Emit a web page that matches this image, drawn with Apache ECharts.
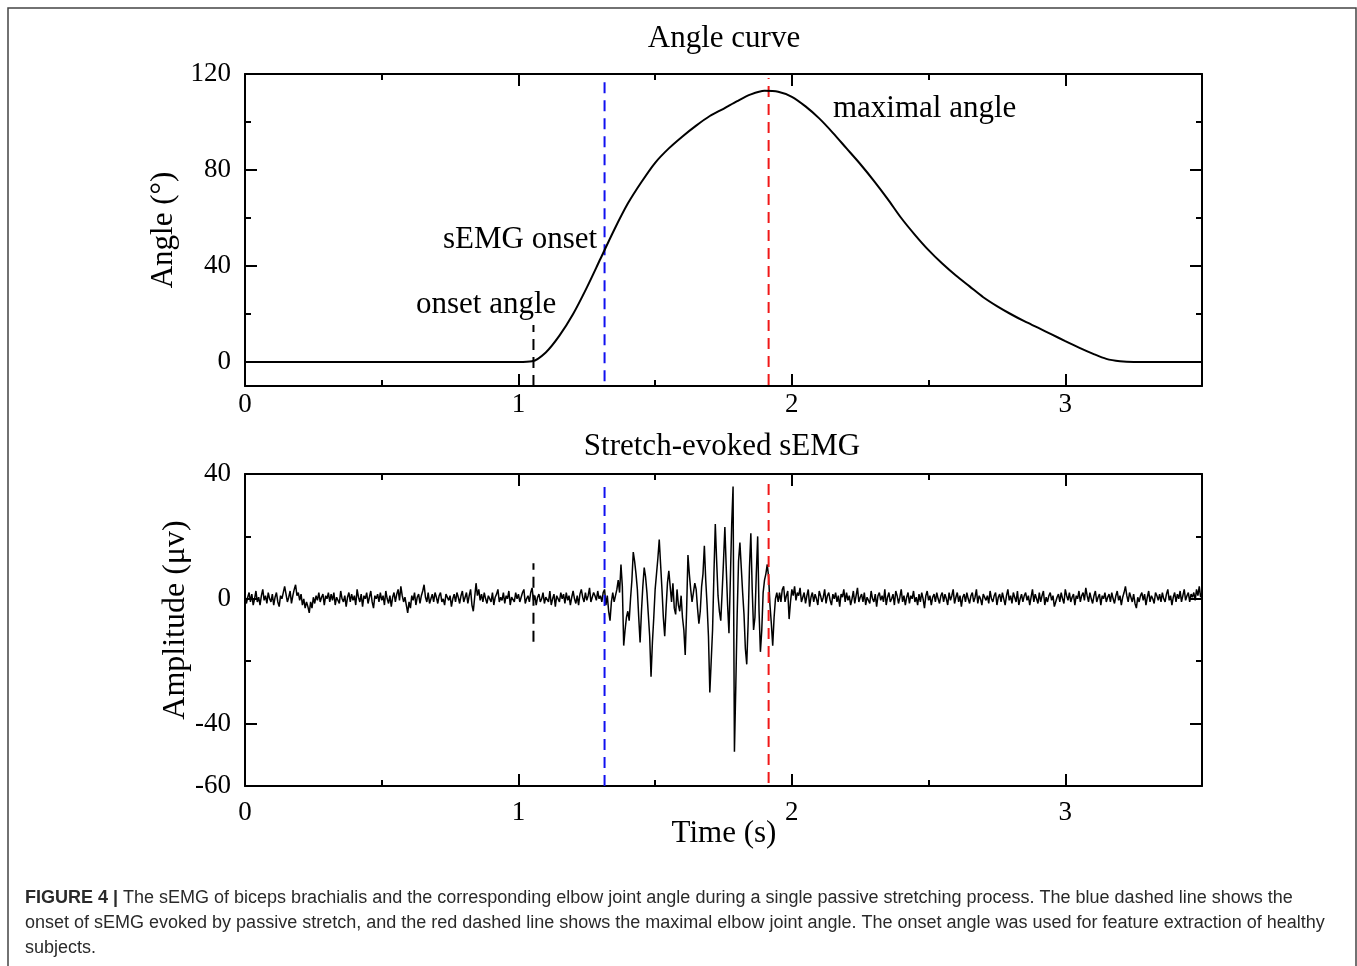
<!DOCTYPE html>
<html><head><meta charset="utf-8">
<script src="https://cdn.jsdelivr.net/npm/echarts@6/dist/echarts.min.js"></script>
<style>html,body{margin:0;padding:0;background:#fff}#c{width:1357px;height:966px}</style>
</head><body><div id="c"></div><script>
// ---------- data ----------
const angleTime = [0, 0.5, 1.0, 1.05, 1.1, 1.15, 1.2, 1.25, 1.3, 1.35, 1.4, 1.45, 1.5, 1.55, 1.6, 1.65, 1.7, 1.75, 1.8, 1.85, 1.9, 1.95, 2.0, 2.05, 2.1, 2.15, 2.2, 2.25, 2.3, 2.35, 2.4, 2.45, 2.5, 2.55, 2.6, 2.65, 2.7, 2.75, 2.8, 2.85, 2.9, 2.95, 3.0, 3.05, 3.1, 3.15, 3.2, 3.25, 3.5];
const angleValue = [0, 0, 0, 0.3, 4, 11, 20, 31, 43, 55, 66, 75, 83, 89, 94, 98.5, 102.5, 105.5, 108.7, 111.5, 113, 112.6, 110.5, 106.5, 101.5, 95.5, 89, 82.5, 75.5, 68, 60, 53, 46.6, 41, 36, 31.5, 27, 23.3, 20, 17, 14.3, 11.5, 8.7, 6, 3.5, 1.3, 0.3, 0, 0];

// sEMG samples (µV)
const emgPreStart = 0, emgPreStep = 0.005;
const emgPre = [
  1, -1.5, 0.5, 2, -1, 1.5, -2, 0, 2.5, -1, 0.5, -2, 1, 3, -0.5, 1, -1.5, 2, 0, -1,
  1.5, -2, 0.5, 2, -1, -2.5, 1, 0, 2, 4, 1.5, -1, 0.5, 2.5, -1.5, 1, 3, 4.5, 1, 2,
  -0.5, 1.5, -2, 0, -3, -1, -2.5, -4.5, -1, -3, 0.5, -1.5, 1, -0.5, 2, -1, 0.5, 1.5, -2, 1,
  0, 2, -1, 1.5, -0.5, 2, -2, 0.5, 1, -1.5, 2.5, 0, -1, 1, -2.5, 0.5, 2, -1, 1.5, -0.5,
  1, -2, 3, 0.5, -1, 1.5, -2.5, 1, 0, 2, -1.5, 0.5, 2.5, -1, -3, 1, 0, 1.5, -1, 2,
  -0.5, 1, -2, 2.5, 0, -1.5, 1, -2.5, 0.5, 2, -1, 1.5, 3, -0.5, 4, 1, -1, 0.5, -2, -4.5,
  -1, -3, 1, -0.5, 2, -2, 0.5, 1.5, -1.5, 1, 2.5, 4.5, 0.5, -1, 2, -1.5, 0, 1.5, -1, 2,
  0.5, -1.5, 1, 2, -1, 0, -2, 1.5, 2, -0.5, 1, -2.5, 0, 1.5, -1, 2, 0.5, -1.5, 1, 2.5,
  -1, 0.5, 2, -1.5, 1, 3, -2, -4, 0.5, 5, 1, 3, -0.5, 1.5, -1, 2, 0, -1.5, 1, 0.5,
  -1, 2, -2, 0.5, 1.5, 3, -1, 0.5, -0.5, 2, -1.5, 1, 0, 2.5, -2, 0.5, 1, -1, 2, 0,
  1.5, -1, 0.5, 2, 3, -1.5, 0, 1, -1, 2, 3.5, -0.5, 1, -2, 0.5, 1.5, -1, 0, 2, -1.5,
  0.5, 1, -1, 2.5, -2, 0, 1.5, -2.5, 1, 0.5, -1, 2, 0, 1.5, -1.5, 2, -0.5, 1, -2, 0.5,
  2.5, 0, -1.5, 1, -2, 1.5, 3, 0.5, -1, 2, -0.5, 1, 3.5, -1, 0.5, 2, 1, -0.5, 2.5, 0
];
const emgBurstStart = 1.30, emgBurstStep = 0.005;
const emgBurst = [
  1, -1, 2, 3, -2, 1, -4, -7, -1, 2,
  -1, 1, 3, 6, 2, 11, 4, -15, -10, -6,
  -4, -7, 0, 6, 15, 12, 8, 3, -6, -14,
  -4, 4, 10, 7, 2, -5, -12, -25, -14, -6,
  3, 8, 13, 19, 11, 3, -6, -12, -3, 5,
  9, 4, -1, 5, -3, -5, 3, -2, -4, 1,
  -6, -10, -18, -4, 14, 8, 3, -1, 2, 5,
  3, -3, -8, -4, 4, 8, 17, 6, -2, -12,
  -30, -20, -10, 8, 24, 12, 1, -4, -7, 2,
  12, 23, 10, -2, -11, 6, 24, 36, -49, -28,
  -5, 12, 18, 10, 2, -5, -16, -21, -8, 10,
  21, 3, -10, -6, 8, 20, -4, -17, -10, 2,
  6, 8, 11, 7, -2, -8, -15, -6, 0, 2, -1
];
const emgPostStart = 1.955, emgPostStep = 0.005;
const emgPost = [
  2, -1, 3, 4, -1, 1, 2.5, -6.5, -1, 3, 1, 4, -0.5, 2, 1, 3.5, -1, 0.5, 2, -1.5,
  1, 3, -2.5, 0.5, 2, -1, 1.5, 0, -2, 2.5, 1, -1, 0.5, 3, -1.5, 1, 2, -0.5, -2, 1.5,
  0, 2, -1, 1, -2.5, 1.5, 0.5, 3, -1, 2, -0.5, 1, -2, 0, 2.5, -1.5, 1, 3.5, -1, 0.5,
  1.5, -1, 2, -2, 0.5, 1, -1.5, 2.5, 0, -1, 1.5, -2.5, 1, 2, -0.5, 1, -1, 3, -2, 0.5,
  2, -1, 0, 1.5, -2, 2.5, 1, -1.5, 0.5, 3, -1, 1, -2, 0.5, 2, -1.5, 1, 0, 2.5, -1,
  0.5, -2, 1.5, -1, 2, 0, -3, 1, 2.5, -0.5, 1, -2, 0.5, 1.5, -1, 2, 0, -1.5, 1, 2,
  -1, 1.5, 0, -2, 2, -0.5, 1, 3, -1.5, 0.5, 2, -1, 1, -2.5, 0.5, 1.5, -1, 2, 0, -1.5,
  1, 2, -1, 0.5, 3, -1.5, 1, 0, -2, 1.5, 2, -0.5, 1, -1.5, 2.5, 0, -1, 1, 2, -2,
  0.5, 1.5, -1, 2, 0, -2, 1, 3, -0.5, 1, -1.5, 2, 0.5, -1, 2.5, -2, 0, 1.5, -1, 1,
  2, -0.5, 1, -2, 0.5, 3, -1, 1.5, 0, -1.5, 2, -1, 1, 2.5, -2, 0.5, -1, 1, 2, -0.5,
  1, -2.5, -1, 0.5, 1.5, -1, 2, 0, -1.5, 3, 1, -0.5, 2, -1, 0.5, 1.5, -2, 1, 0, 2.5,
  -1, 1, 2, -0.5, 3.5, 1, -1, 2, 0, -1.5, 1, 2.5, -1, 0.5, 1.5, -2, 1, 0, 2, -1,
  0.5, 1.5, -1, 2, 0, -1.5, 1, 2.5, -0.5, 1, -2, 0.5, 2, 4, 1, -1, 2, 0.5, -1, 1.5,
  -1.5, -3, 0.5, -1, 1, 2, -0.5, 1.5, -2, 0.5, 2.5, -1, 1, 0, -1.5, 2, 1, -0.5, 1.5, -1,
  2, 0, -1, 1.5, 3, -0.5, 1, -2, 0.5, 2, -1, 1.5, 0, 2.5, -1, 1, 3, -0.5, 1, 2,
  -1, 1.5, 0.5, 2, -0.5, 3, 1, 4, 0.5, 2
];

// event markers (time in s) and their vertical extents
const onsetAngleTime = 1.055, emgOnsetTime = 1.315, maxAngleTime = 1.915;
const onsetSpanTop = [-10, 15.4], emgOnsetSpanTop = [-8, 119], maxSpanTop = [-9.6, 118.3];
const onsetSpanBot = [-13.8, 11.4], emgOnsetSpanBot = [-60, 36.6], maxSpanBot = [-59, 39];

// axes / ticks
const timeRange = [0, 3.5];
const timeLabels = [0, 1, 2, 3];
const timeMinor = [0.5, 1.5, 2.5];
const angleRange = [-10, 120];
const angleLabels = [0, 40, 80, 120];
const angleMinor = [20, 60, 100];
const ampRange = [-60, 40];
const ampLabels = [40, 0, -40, -60];
const ampMajor = [0, -40];
const ampMinor = [20, -20];

// ---------- build ----------
const FONT = 'Liberation Serif';
function buildSeries(start, step, arr) {
  return arr.map((v, i) => [+(start + i * step).toFixed(4), v]);
}
const emgData = buildSeries(emgPreStart, emgPreStep, emgPre)
  .concat(buildSeries(emgBurstStart, emgBurstStep, emgBurst))
  .concat(buildSeries(emgPostStart, emgPostStep, emgPost));
const angleData = angleTime.map((t, i) => [t, angleValue[i]]);

const lineAx = { show: true, onZero: false, lineStyle: { color: '#000', width: 2 } };
const noLine = { show: false, onZero: false };
function xAx(grid, pos, ticks, len, opts) {
  return Object.assign({
    type: 'value', gridIndex: grid, position: pos, min: timeRange[0], max: timeRange[1],
    axisLine: noLine, splitLine: { show: false },
    axisTick: { show: true, inside: true, length: len, customValues: ticks, lineStyle: { color: '#000', width: 2 } },
    axisLabel: { show: false }
  }, opts || {});
}
function yAx(grid, pos, range, ticks, len, opts) {
  return Object.assign({
    type: 'value', gridIndex: grid, position: pos, min: range[0], max: range[1],
    axisLine: noLine, splitLine: { show: false },
    axisTick: { show: true, inside: true, length: len, customValues: ticks, lineStyle: { color: '#000', width: 2 } },
    axisLabel: { show: false }
  }, opts || {});
}
const lblStyle = { show: true, fontFamily: FONT, fontSize: 27, color: '#000' };
const nameStyle = { fontFamily: FONT, fontSize: 31, color: '#000' };

const xAxis = [
  xAx(0, 'bottom', timeLabels, 12, { axisLine: lineAx, axisLabel: Object.assign({}, lblStyle, { customValues: timeLabels, margin: 5 }) }),
  xAx(0, 'bottom', timeMinor, 6),
  xAx(0, 'top', timeLabels, 12, { axisLine: lineAx }),
  xAx(0, 'top', timeMinor, 6),
  xAx(1, 'bottom', timeLabels, 12, { axisLine: lineAx, axisLabel: Object.assign({}, lblStyle, { customValues: timeLabels, margin: 13 }) }),
  xAx(1, 'bottom', timeMinor, 6),
  xAx(1, 'top', timeLabels, 12, { axisLine: lineAx }),
  xAx(1, 'top', timeMinor, 6)
];
const yAxis = [
  yAx(0, 'left', angleRange, angleLabels, 12, { axisLine: lineAx, axisLabel: Object.assign({}, lblStyle, { customValues: angleLabels, margin: 14 }),
    name: 'Angle (°)', nameLocation: 'middle', nameGap: 63, nameTextStyle: nameStyle }),
  yAx(0, 'left', angleRange, angleMinor, 6),
  yAx(0, 'right', angleRange, angleLabels, 12, { axisLine: lineAx }),
  yAx(0, 'right', angleRange, angleMinor, 6),
  yAx(1, 'left', ampRange, ampMajor, 12, { axisLine: lineAx, axisLabel: Object.assign({}, lblStyle, { customValues: ampLabels, margin: 14 }) }),
  yAx(1, 'left', ampRange, ampMinor, 6),
  yAx(1, 'right', ampRange, ampMajor, 12, { axisLine: lineAx }),
  yAx(1, 'right', ampRange, ampMinor, 6)
];

function marker(t, span, color, xi, yi) {
  return {
    type: 'line', xAxisIndex: xi, yAxisIndex: yi, symbol: 'none', silent: true, z: 3,
    data: [[t, span[0]], [t, span[1]]],
    lineStyle: { color: color, width: 2, type: [11, 7] }
  };
}

const caption = '{b|FIGURE 4 |} The sEMG of biceps brachialis and the corresponding elbow joint angle during a single passive stretching process. The blue dashed line shows the\n' +
  'onset of sEMG evoked by passive stretch, and the red dashed line shows the maximal elbow joint angle. The onset angle was used for feature extraction of healthy\n' +
  'subjects.';

const SERIF31 = '31px "Liberation Serif"';
const chart = echarts.init(document.getElementById('c'), null, { renderer: 'canvas' });
chart.setOption({
  animation: false,
  backgroundColor: '#fff',
  grid: [
    { left: 245, top: 74, width: 957, height: 312, containLabel: false },
    { left: 245, top: 474, width: 957, height: 312, containLabel: false }
  ],
  xAxis: xAxis,
  yAxis: yAxis,
  series: [
    { type: 'line', xAxisIndex: 0, yAxisIndex: 0, data: angleData, symbol: 'none', smooth: 0.3,
      lineStyle: { color: '#000', width: 2 }, z: 4 },
    marker(onsetAngleTime, onsetSpanTop, '#000', 0, 0),
    marker(emgOnsetTime, emgOnsetSpanTop, '#1010f0', 0, 0),
    marker(maxAngleTime, maxSpanTop, '#f01818', 0, 0),
    { type: 'line', xAxisIndex: 4, yAxisIndex: 4, data: emgData, symbol: 'none',
      lineStyle: { color: '#000', width: 1.5 }, z: 2 },
    marker(onsetAngleTime, onsetSpanBot, '#000', 4, 4),
    marker(emgOnsetTime, emgOnsetSpanBot, '#1010f0', 4, 4),
    marker(maxAngleTime, maxSpanBot, '#f01818', 4, 4)
  ],
  graphic: [
    { type: 'rect', shape: { x: 8, y: 8, width: 1348, height: 990 }, style: { fill: 'none', stroke: '#444', lineWidth: 1.5 }, silent: true },
    { type: 'text', x: 724, y: 39, style: { text: 'Angle curve', font: SERIF31, fill: '#000', textAlign: 'center', textVerticalAlign: 'middle' } },
    { type: 'text', x: 722, y: 447, style: { text: 'Stretch-evoked sEMG', font: SERIF31, fill: '#000', textAlign: 'center', textVerticalAlign: 'middle' } },
    { type: 'text', x: 833, y: 109, style: { text: 'maximal angle', font: SERIF31, fill: '#000', textAlign: 'left', textVerticalAlign: 'middle' } },
    { type: 'text', x: 443, y: 240, style: { text: 'sEMG onset', font: SERIF31, fill: '#000', textAlign: 'left', textVerticalAlign: 'middle' } },
    { type: 'text', x: 416, y: 305, style: { text: 'onset angle', font: SERIF31, fill: '#000', textAlign: 'left', textVerticalAlign: 'middle' } },
    { type: 'text', x: 176, y: 620, rotation: Math.PI / 2, style: { text: 'Amplitude (μv)', font: '32px "Liberation Serif"', fill: '#000', textAlign: 'center', textVerticalAlign: 'middle' } },
    { type: 'text', x: 724, y: 834, style: { text: 'Time (s)', font: SERIF31, fill: '#000', textAlign: 'center', textVerticalAlign: 'middle' } },
    { type: 'text', x: 25, y: 886, style: { text: caption, font: '18px "Liberation Sans"', fill: '#2a2a2a', lineHeight: 25,
        rich: { b: { fontWeight: 'bold', fontSize: 18, fontFamily: 'Liberation Sans', fill: '#2a2a2a', lineHeight: 25 } } } }
  ]
});
</script></body></html>
